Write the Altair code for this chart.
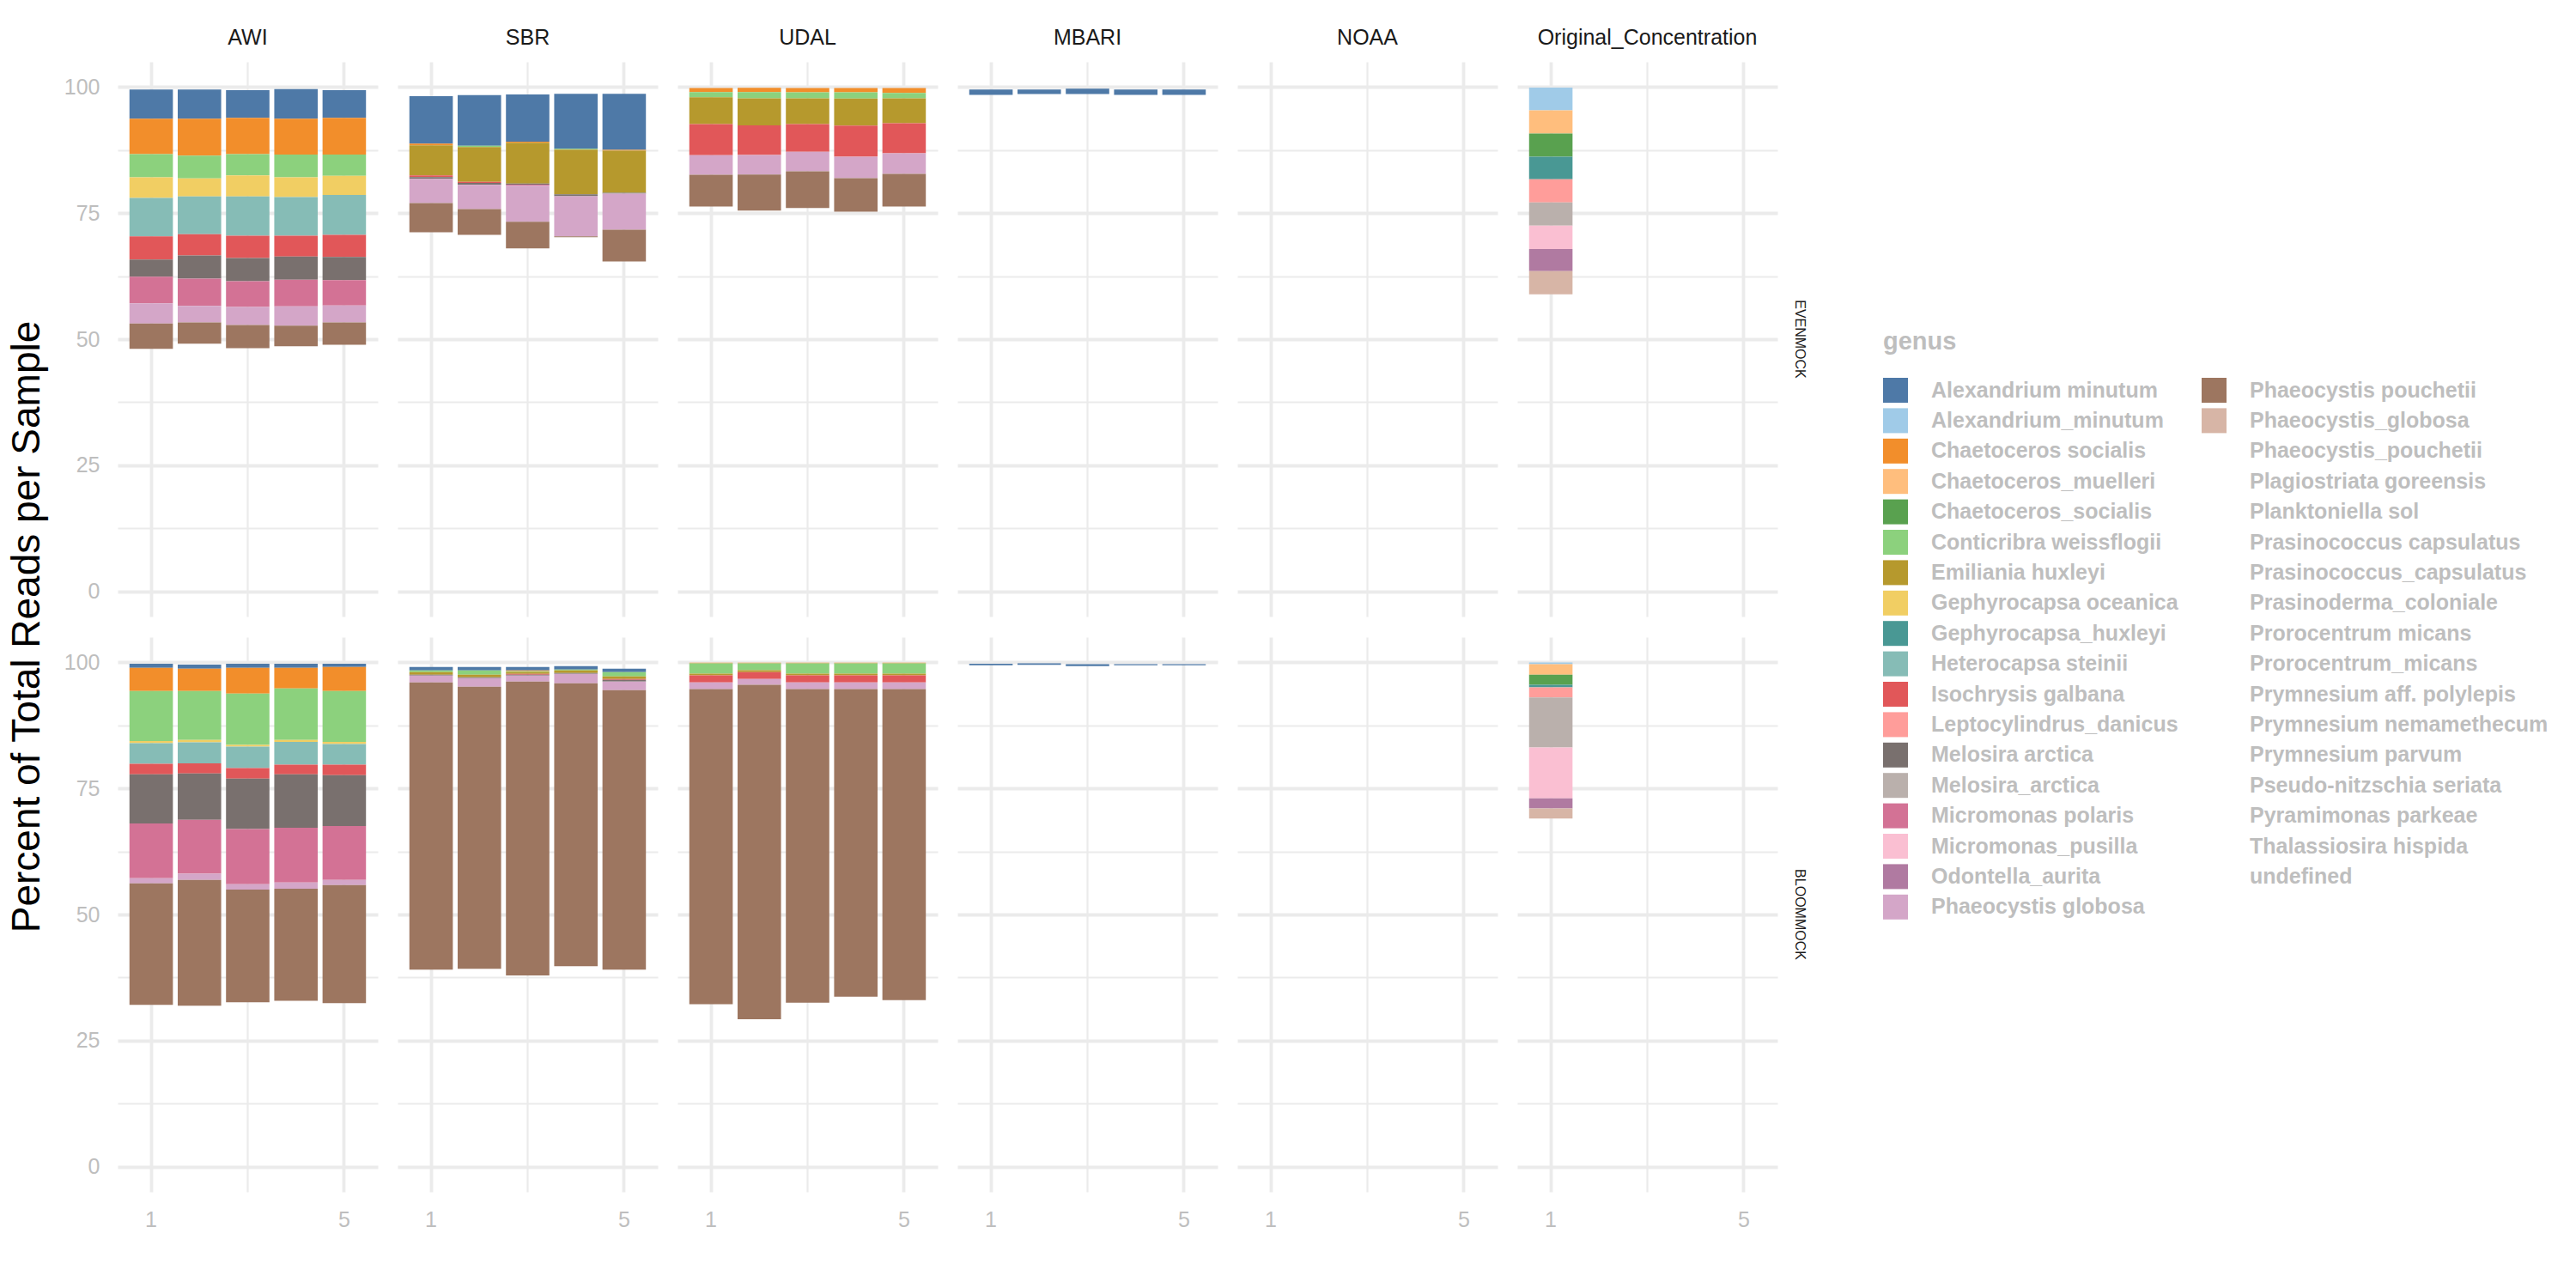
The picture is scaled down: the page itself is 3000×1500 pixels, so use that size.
import altair as alt
import pandas as pd

LABS = ["AWI", "SBR", "UDAL", "MBARI", "NOAA", "Original_Concentration"]
MOCKS = ["EVENMOCK", "BLOOMMOCK"]
REPS = [1, 2, 3, 4, 5]

GENERA = [
    "Alexandrium minutum", "Alexandrium_minutum", "Chaetoceros socialis",
    "Chaetoceros_muelleri", "Chaetoceros_socialis", "Conticribra weissflogii",
    "Emiliania huxleyi", "Gephyrocapsa oceanica", "Gephyrocapsa_huxleyi",
    "Heterocapsa steinii", "Isochrysis galbana", "Leptocylindrus_danicus",
    "Melosira arctica", "Melosira_arctica", "Micromonas polaris",
    "Micromonas_pusilla", "Odontella_aurita", "Phaeocystis globosa",
    "Phaeocystis pouchetii", "Phaeocystis_globosa", "Phaeocystis_pouchetii",
    "Plagiostriata goreensis", "Planktoniella sol", "Prasinococcus capsulatus",
    "Prasinococcus_capsulatus", "Prasinoderma_coloniale", "Prorocentrum micans",
    "Prorocentrum_micans", "Prymnesium aff. polylepis", "Prymnesium nemamethecum",
    "Prymnesium parvum", "Pseudo-nitzschia seriata", "Pyramimonas parkeae",
    "Thalassiosira hispida", "undefined",
]
COLORS = [
    "#4E79A7", "#A0CBE8", "#F28E2B", "#FFBE7D", "#59A14F", "#8CD17D",
    "#B6992D", "#F1CE63", "#499894", "#86BCB6", "#E15759", "#FF9D9A",
    "#79706E", "#BAB0AC", "#D37295", "#FABFD2", "#B07AA1", "#D4A6C8",
    "#9D7660", "#D7B5A6",
]
HIDDEN_GENUS = "undefined"

# ---------------- EVENMOCK ----------------
AWI_EVEN_GENERA = ["Alexandrium minutum", "Chaetoceros socialis", "Conticribra weissflogii",
                   "Gephyrocapsa oceanica", "Heterocapsa steinii", "Isochrysis galbana",
                   "Melosira arctica", "Micromonas polaris", "Phaeocystis globosa",
                   "Phaeocystis pouchetii"]
AWI_EVEN_VALUES = [
    [5.8, 5.8, 5.5, 5.9, 5.5],
    [7.0, 7.3, 7.2, 7.1, 7.3],
    [4.6, 4.5, 4.2, 4.5, 4.2],
    [4.1, 3.6, 4.2, 3.9, 3.8],
    [7.6, 7.5, 7.8, 7.7, 7.9],
    [4.6, 4.2, 4.4, 4.1, 4.4],
    [3.4, 4.6, 4.6, 4.6, 4.6],
    [5.3, 5.4, 5.1, 5.3, 5.0],
    [4.0, 3.3, 3.6, 3.8, 3.4],
    [5.0, 4.2, 4.6, 4.1, 4.4],
]
AWI_EVEN_HIDDEN = [48.1, 49.1, 48.2, 48.6, 48.9]

SBR_EVEN_GENERA = ["Alexandrium minutum", "Chaetoceros socialis", "Conticribra weissflogii",
                   "Emiliania huxleyi", "Isochrysis galbana", "Melosira arctica",
                   "Micromonas polaris", "Phaeocystis globosa", "Phaeocystis pouchetii"]
SBR_EVEN_VALUES = [
    [9.4, 10.05, 9.4, 10.9, 11.1],
    [0.35, 0.0, 0.2, 0.0, 0.17],
    [0.0, 0.25, 0.0, 0.17, 0.0],
    [5.95, 6.9, 8.1, 8.85, 8.35],
    [0.35, 0.2, 0.0, 0.0, 0.0],
    [0.35, 0.4, 0.2, 0.35, 0.17],
    [0.0, 0.0, 0.2, 0.0, 0.0],
    [4.8, 4.8, 7.15, 8.0, 7.15],
    [5.8, 5.1, 5.3, 0.17, 6.3],
]
SBR_EVEN_HIDDEN = [71.2, 70.7, 68.0, 70.2, 65.4]

UDAL_EVEN_GENERA = ["Chaetoceros socialis", "Conticribra weissflogii", "Emiliania huxleyi",
                    "Isochrysis galbana", "Phaeocystis globosa", "Phaeocystis pouchetii"]
UDAL_EVEN_VALUES = [
    [0.83, 0.83, 0.83, 0.83, 0.99],
    [1.0, 1.22, 1.22, 1.22, 1.06],
    [5.33, 5.4, 5.1, 5.4, 4.94],
    [6.16, 5.86, 5.47, 6.16, 5.94],
    [3.87, 3.87, 3.88, 4.26, 4.1],
    [6.32, 7.15, 7.3, 6.62, 6.47],
]
UDAL_EVEN_HIDDEN = [76.3, 75.5, 76.0, 75.3, 76.3]

MBARI_EVEN_GENERA = ["Alexandrium minutum"]
MBARI_EVEN_VALUES = [[1.07, 0.91, 1.06, 1.07, 1.07]]
MBARI_EVEN_HIDDEN = [98.44, 98.6, 98.6, 98.44, 98.44]

ORIG_GENERA = ["Alexandrium_minutum", "Chaetoceros_muelleri", "Chaetoceros_socialis",
               "Gephyrocapsa_huxleyi", "Leptocylindrus_danicus", "Melosira_arctica",
               "Micromonas_pusilla", "Odontella_aurita", "Phaeocystis_globosa"]
ORIG_EVEN_VALUES = [[4.5], [4.6], [4.6], [4.5], [4.6], [4.6], [4.6], [4.4], [4.6]]
ORIG_EVEN_HIDDEN = [58.9]

# ---------------- BLOOMMOCK ----------------
AWI_BLOOM_VALUES = [
    [0.78, 0.78, 0.78, 0.78, 0.61],
    [4.61, 4.44, 5.13, 4.09, 4.78],
    [9.91, 9.73, 10.17, 10.25, 10.08],
    [0.43, 0.44, 0.35, 0.35, 0.43],
    [4.09, 4.17, 4.25, 4.52, 4.09],
    [2.08, 2.0, 2.09, 1.91, 2.09],
    [9.74, 9.21, 10.0, 10.61, 10.08],
    [10.86, 10.69, 10.95, 10.86, 10.69],
    [1.04, 1.22, 1.04, 1.22, 1.04],
    [24.08, 24.94, 22.34, 22.25, 23.38],
]
AWI_BLOOM_HIDDEN = [32.09, 31.92, 32.61, 32.87, 32.44]

SBR_BLOOM_GENERA = ["Alexandrium minutum", "Chaetoceros socialis", "Conticribra weissflogii",
                    "Emiliania huxleyi", "Isochrysis galbana", "Melosira arctica",
                    "Phaeocystis globosa", "Phaeocystis pouchetii"]
SBR_BLOOM_VALUES = [
    [0.68, 0.68, 0.68, 0.68, 0.69],
    [0.0, 0.0, 0.17, 0.0, 0.0],
    [0.35, 0.86, 0.17, 0.17, 0.85],
    [0.51, 0.51, 0.34, 0.51, 0.51],
    [0.0, 0.0, 0.17, 0.0, 0.17],
    [0.17, 0.17, 0.17, 0.17, 0.34],
    [1.36, 1.7, 1.19, 1.87, 1.7],
    [56.99, 55.96, 58.29, 56.12, 55.46],
]
SBR_BLOOM_HIDDEN = [39.04, 39.22, 37.91, 39.74, 39.04]

UDAL_BLOOM_VALUES = [
    [0.15, 0.15, 0.15, 0.15, 0.15],
    [2.05, 1.37, 2.05, 2.05, 2.05],
    [0.31, 0.38, 0.31, 0.31, 0.31],
    [1.44, 1.37, 1.44, 1.44, 1.44],
    [1.29, 1.14, 1.29, 1.29, 1.29],
    [62.52, 66.32, 62.21, 61.0, 61.68],
]
UDAL_BLOOM_HIDDEN = [32.19, 29.22, 32.5, 33.71, 33.03]

MBARI_BLOOM_VALUES = [[0.3, 0.3, 0.38, 0.23, 0.23]]
MBARI_BLOOM_HIDDEN = [99.42, 99.5, 99.27, 99.42, 99.42]

ORIG_BLOOM_VALUES = [[0.35], [2.08], [2.0], [0.52], [2.0], [9.9], [10.1], [2.0], [2.0]]
ORIG_BLOOM_HIDDEN = [69.03]

# ---------------- build long table ----------------
GIDX = {g: i for i, g in enumerate(GENERA)}
rows = []


def add(lab, mock, genera, values, hidden, reps):
    for ri, rep in enumerate(reps):
        rows.append(dict(lab=lab, mock=mock, rep=rep, genus=HIDDEN_GENUS,
                         value=hidden[ri], idx=GIDX[HIDDEN_GENUS]))
        for g, vals in zip(genera, values):
            if vals[ri] > 0:
                rows.append(dict(lab=lab, mock=mock, rep=rep, genus=g,
                                 value=vals[ri], idx=GIDX[g]))


add("AWI", "EVENMOCK", AWI_EVEN_GENERA, AWI_EVEN_VALUES, AWI_EVEN_HIDDEN, REPS)
add("SBR", "EVENMOCK", SBR_EVEN_GENERA, SBR_EVEN_VALUES, SBR_EVEN_HIDDEN, REPS)
add("UDAL", "EVENMOCK", UDAL_EVEN_GENERA, UDAL_EVEN_VALUES, UDAL_EVEN_HIDDEN, REPS)
add("MBARI", "EVENMOCK", MBARI_EVEN_GENERA, MBARI_EVEN_VALUES, MBARI_EVEN_HIDDEN, REPS)
add("Original_Concentration", "EVENMOCK", ORIG_GENERA, ORIG_EVEN_VALUES, ORIG_EVEN_HIDDEN, [1])
add("AWI", "BLOOMMOCK", AWI_EVEN_GENERA, AWI_BLOOM_VALUES, AWI_BLOOM_HIDDEN, REPS)
add("SBR", "BLOOMMOCK", SBR_BLOOM_GENERA, SBR_BLOOM_VALUES, SBR_BLOOM_HIDDEN, REPS)
add("UDAL", "BLOOMMOCK", UDAL_EVEN_GENERA, UDAL_BLOOM_VALUES, UDAL_BLOOM_HIDDEN, REPS)
add("MBARI", "BLOOMMOCK", MBARI_EVEN_GENERA, MBARI_BLOOM_VALUES, MBARI_BLOOM_HIDDEN, REPS)
add("Original_Concentration", "BLOOMMOCK", ORIG_GENERA, ORIG_BLOOM_VALUES, ORIG_BLOOM_HIDDEN, [1])
# NOAA has no reads: empty panels
add("NOAA", "EVENMOCK", [], [], [0.0], [1])
add("NOAA", "BLOOMMOCK", [], [], [0.0], [1])

df = pd.DataFrame(rows)

# uncoloured genera are drawn transparent (no swatch), as in the original
leg_range = COLORS + ["transparent"] * (len(GENERA) - len(COLORS))

FONT = "Liberation Sans"
GRID = "#EBEBEB"
TICK_GRAY = "#BEBEBE"

base = alt.Chart(df).mark_bar().encode(
    x=alt.X("rep:O",
            scale=alt.Scale(paddingInner=0.1, paddingOuter=0.245),
            axis=alt.Axis(values=[1, 3, 5], title=None, ticks=False, domain=False,
                          labelAngle=0, labelFontSize=25, labelColor=TICK_GRAY,
                          labelPadding=20, grid=True, gridColor=GRID, bandPosition=0.5,
                          labelExpr="datum.value == 3 ? '' : datum.label",
                          gridWidth={"condition": {"test": "datum.value == 3", "value": 2.2},
                                     "value": 3.8})),
    y=alt.Y("value:Q", stack="zero",
            scale=alt.Scale(domain=[-5, 105], nice=False, zero=False),
            axis=alt.Axis(values=[0, 12.5, 25, 37.5, 50, 62.5, 75, 87.5, 100],
                          title=None, ticks=False, domain=False,
                          labelFontSize=25, labelColor=TICK_GRAY, labelPadding=21,
                          grid=True, gridColor=GRID,
                          labelExpr="datum.value % 25 === 0 ? datum.label : ''",
                          gridWidth={"condition": {"test": "datum.value % 25 === 0", "value": 3.8},
                                     "value": 2.2})),
    color=alt.Color("genus:N",
                    scale=alt.Scale(domain=GENERA, range=leg_range),
                    legend=alt.Legend(title="genus", orient="none", legendX=2056, legendY=312,
                                      columns=2, direction="vertical", symbolLimit=0,
                                      symbolType="square", symbolSize=841,
                                      symbolStrokeWidth=0, labelFontSize=25,
                                      labelFontWeight="bold", labelColor=TICK_GRAY,
                                      labelLimit=600, labelOffset=27, rowPadding=6.4,
                                      columnPadding=27, titleFontSize=29,
                                      titleFontWeight="bold", titleColor=TICK_GRAY,
                                      titlePadding=27)),
    order=alt.Order("idx:Q", sort="descending"),
).properties(width=303, height=646)

chart = base.facet(
    column=alt.Column("lab:N", sort=LABS,
                      header=alt.Header(title=None, labelFontSize=25, labelColor="#1A1A1A",
                                        labelFont=FONT, labelPadding=15)),
    row=alt.Row("mock:N", sort=MOCKS,
                header=alt.Header(title="Percent of Total Reads per Sample",
                                  titleOrient="left", titleFontSize=46,
                                  titleFontWeight="normal", titleColor="black",
                                  titleFont=FONT, titlePadding=8,
                                  labelOrient="right", labelAngle=90, labelFontSize=16,
                                  labelColor="#1A1A1A", labelFont=FONT, labelPadding=18)),
    spacing={"row": 24, "column": 23},
).properties(
    padding={"left": 8, "top": 32, "right": 5, "bottom": 5},
).configure(font=FONT).configure_view(stroke=None)

chart.save("out.html", embed_options={"renderer": "svg", "actions": False})
